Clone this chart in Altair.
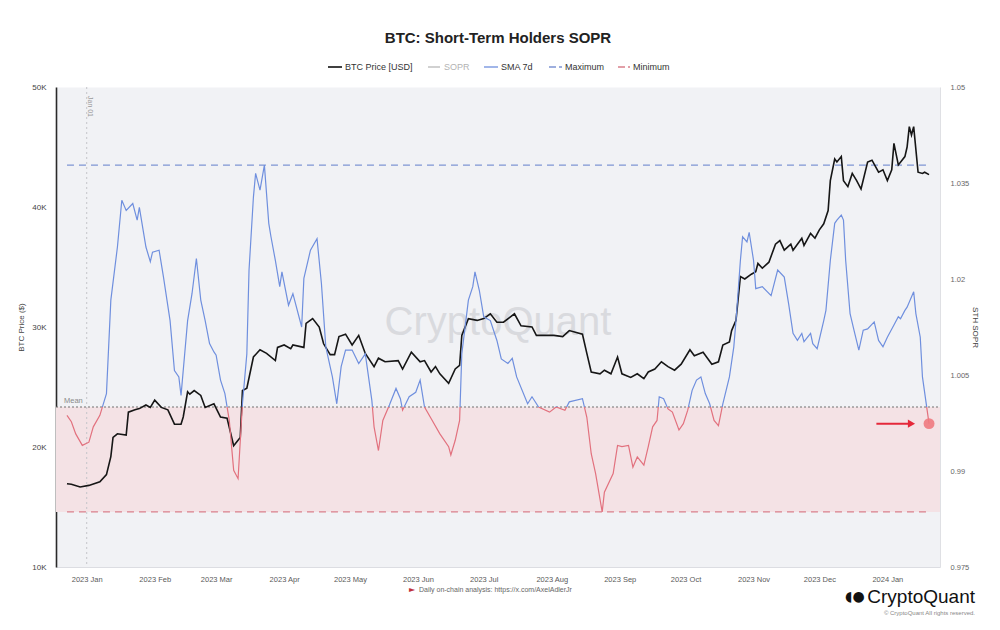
import altair as alt
import pandas as pd

# ---------------- data ----------------
PRICE_DATES = [
    "2022-12-23", "2022-12-25", "2022-12-29", "2023-01-02", "2023-01-07", "2023-01-10",
    "2023-01-12", "2023-01-13", "2023-01-15", "2023-01-19", "2023-01-20", "2023-01-23",
    "2023-01-25", "2023-01-28", "2023-01-30", "2023-02-01", "2023-02-04", "2023-02-07",
    "2023-02-10", "2023-02-13", "2023-02-14", "2023-02-16", "2023-02-17", "2023-02-19",
    "2023-02-22", "2023-02-24", "2023-02-28", "2023-03-03", "2023-03-06", "2023-03-09",
    "2023-03-12", "2023-03-13", "2023-03-15", "2023-03-18", "2023-03-21", "2023-03-24",
    "2023-03-28", "2023-03-29", "2023-04-01", "2023-04-04", "2023-04-05", "2023-04-10",
    "2023-04-11", "2023-04-14", "2023-04-17", "2023-04-19", "2023-04-22", "2023-04-24",
    "2023-04-26", "2023-04-29", "2023-05-02", "2023-05-05", "2023-05-08", "2023-05-12",
    "2023-05-14", "2023-05-17", "2023-05-23", "2023-05-25", "2023-05-29", "2023-06-02",
    "2023-06-04", "2023-06-07", "2023-06-09", "2023-06-11", "2023-06-15", "2023-06-18",
    "2023-06-20", "2023-06-21", "2023-06-24", "2023-06-28", "2023-07-01", "2023-07-04",
    "2023-07-07", "2023-07-10", "2023-07-15", "2023-07-18", "2023-07-23", "2023-07-25",
    "2023-08-02", "2023-08-06", "2023-08-09", "2023-08-15", "2023-08-17", "2023-08-19",
    "2023-08-23", "2023-08-25", "2023-08-28", "2023-08-31", "2023-09-02", "2023-09-06",
    "2023-09-09", "2023-09-12", "2023-09-14", "2023-09-17", "2023-09-20", "2023-09-23",
    "2023-09-26", "2023-09-29", "2023-10-03", "2023-10-05", "2023-10-09", "2023-10-13",
    "2023-10-16", "2023-10-18", "2023-10-21", "2023-10-22", "2023-10-24", "2023-10-26",
    "2023-10-28", "2023-10-31", "2023-11-02", "2023-11-03", "2023-11-05", "2023-11-08",
    "2023-11-11", "2023-11-13", "2023-11-15", "2023-11-18", "2023-11-19", "2023-11-21",
    "2023-11-23", "2023-11-24", "2023-11-27", "2023-11-29", "2023-12-01", "2023-12-03",
    "2023-12-05", "2023-12-06", "2023-12-08", "2023-12-09", "2023-12-11", "2023-12-12",
    "2023-12-14", "2023-12-16", "2023-12-18", "2023-12-20", "2023-12-23", "2023-12-25",
    "2023-12-28", "2023-12-30", "2024-01-01", "2024-01-03", "2024-01-04", "2024-01-06",
    "2024-01-09", "2024-01-10", "2024-01-11", "2024-01-12", "2024-01-13", "2024-01-15",
    "2024-01-17", "2024-01-18", "2024-01-20",
]
PRICE_USD = [
    16940, 16900, 16670, 16800, 17100, 17700,
    19200, 20800, 21100, 21000, 22900, 23100,
    23200, 23500, 23300, 23900, 23300, 23100,
    21900, 21900, 22500, 24600, 24400, 24700,
    24300, 23300, 23600, 22500, 22400, 20100,
    20800, 24700, 24900, 27500, 28100, 27800,
    27200, 28300, 28500, 28200, 28500, 28300,
    30300, 30700, 30000, 28600, 27700, 27700,
    29200, 29400, 28500, 29300, 27800, 26700,
    27400, 27100, 27200, 26500, 27900, 27100,
    27200, 26250, 26700, 26100, 25300, 26500,
    26800, 29300, 30700, 30550, 30700, 31100,
    30400, 30400, 31100, 30100, 30000, 29300,
    29300, 29200, 29700, 29400, 27800, 26250,
    26100, 26400, 26100, 27500, 26100, 25800,
    26100, 25700, 26250, 26500, 27100, 26700,
    26400, 26900, 28100, 27600, 27900, 26900,
    27100, 28500, 28750, 29700, 30550, 34200,
    34000, 34400, 34600, 35300, 34900, 35400,
    36900, 37200, 36400, 36900, 36400, 36900,
    37400, 36800, 37800, 37400, 38100, 38600,
    39700, 42200, 44000, 43750, 44200, 42200,
    41700, 42800, 42200, 41500, 43750, 43900,
    42900, 43100, 42200, 43100, 45300, 43500,
    44200, 45000, 46700, 46000, 46700, 42900,
    42800, 42900, 42700,
]

SMA_DATES = [
    "2022-12-23", "2022-12-25", "2022-12-27", "2022-12-30", "2023-01-02", "2023-01-04",
    "2023-01-07", "2023-01-10", "2023-01-12", "2023-01-15", "2023-01-17", "2023-01-19",
    "2023-01-22", "2023-01-24", "2023-01-25", "2023-01-28", "2023-01-30", "2023-01-31",
    "2023-02-03", "2023-02-05", "2023-02-08", "2023-02-10", "2023-02-12", "2023-02-13",
    "2023-02-16", "2023-02-18", "2023-02-20", "2023-02-22", "2023-02-24", "2023-02-26",
    "2023-02-28", "2023-03-01", "2023-03-03", "2023-03-05", "2023-03-07", "2023-03-09",
    "2023-03-11", "2023-03-13", "2023-03-15", "2023-03-16", "2023-03-18", "2023-03-19",
    "2023-03-21", "2023-03-23", "2023-03-25", "2023-03-26", "2023-03-28", "2023-03-30",
    "2023-03-31", "2023-04-03", "2023-04-05", "2023-04-09", "2023-04-10", "2023-04-13",
    "2023-04-16", "2023-04-18", "2023-04-20", "2023-04-23", "2023-04-25", "2023-04-27",
    "2023-04-29", "2023-05-02", "2023-05-05", "2023-05-08", "2023-05-11", "2023-05-12",
    "2023-05-14", "2023-05-16", "2023-05-19", "2023-05-22", "2023-05-24", "2023-05-25",
    "2023-05-28", "2023-05-31", "2023-06-02", "2023-06-04", "2023-06-07", "2023-06-11",
    "2023-06-15", "2023-06-16", "2023-06-18", "2023-06-20", "2023-06-21", "2023-06-24",
    "2023-06-26", "2023-06-27", "2023-06-29", "2023-07-01", "2023-07-04", "2023-07-07",
    "2023-07-09", "2023-07-12", "2023-07-14", "2023-07-16", "2023-07-21", "2023-07-23",
    "2023-07-26", "2023-07-31", "2023-08-03", "2023-08-07", "2023-08-09", "2023-08-15",
    "2023-08-17", "2023-08-19", "2023-08-21", "2023-08-24", "2023-08-25", "2023-08-29",
    "2023-08-31", "2023-09-02", "2023-09-05", "2023-09-07", "2023-09-09", "2023-09-12",
    "2023-09-14", "2023-09-16", "2023-09-18", "2023-09-19", "2023-09-21", "2023-09-23",
    "2023-09-25", "2023-09-28", "2023-09-30", "2023-10-02", "2023-10-04", "2023-10-06",
    "2023-10-08", "2023-10-10", "2023-10-12", "2023-10-14", "2023-10-16", "2023-10-18",
    "2023-10-21", "2023-10-23", "2023-10-24", "2023-10-26", "2023-10-27", "2023-10-29",
    "2023-10-30", "2023-11-01", "2023-11-02", "2023-11-05", "2023-11-09", "2023-11-12",
    "2023-11-15", "2023-11-17", "2023-11-19", "2023-11-21", "2023-11-23", "2023-11-24",
    "2023-11-27", "2023-11-28", "2023-11-30", "2023-12-03", "2023-12-04", "2023-12-06",
    "2023-12-08", "2023-12-09", "2023-12-11", "2023-12-12", "2023-12-13", "2023-12-15",
    "2023-12-17", "2023-12-19", "2023-12-21", "2023-12-23", "2023-12-26", "2023-12-28",
    "2023-12-30", "2024-01-01", "2024-01-04", "2024-01-06", "2024-01-07", "2024-01-09",
    "2024-01-10", "2024-01-13", "2024-01-14", "2024-01-16", "2024-01-17", "2024-01-20",
]
SMA_VALUES = [
    0.9987, 0.9977, 0.9958, 0.9940, 0.9945, 0.9969,
    0.9987, 1.0021, 1.0167, 1.0250, 1.0323, 1.0307,
    1.0318, 1.0292, 1.0312, 1.0250, 1.0227, 1.0242,
    1.0245, 1.0203, 1.0135, 1.0057, 1.0047, 1.0018,
    1.0135, 1.0177, 1.0232, 1.0167, 1.0135, 1.0099,
    1.0086, 1.0081, 1.0042, 1.0021, 0.9979, 0.9901,
    0.9888, 1.0005, 1.0083, 1.0214, 1.0328, 1.0365,
    1.0339, 1.0378, 1.0287, 1.0266, 1.0229, 1.0188,
    1.0211, 1.0159, 1.0177, 1.0125, 1.0201, 1.0245,
    1.0263, 1.0193, 1.0094, 1.0047, 1.0005, 1.0063,
    1.0089, 1.0089, 1.0068, 1.0083, 1.0010, 0.9969,
    0.9932, 0.9979, 1.0003, 1.0029, 1.0013, 0.9995,
    1.0016, 1.0023, 1.0042, 1.0000, 0.9982, 0.9958,
    0.9938, 0.9925, 0.9948, 0.9979, 1.0083, 1.0167,
    1.0188, 1.0211, 1.0182, 1.0141, 1.0135, 1.0104,
    1.0075, 1.0068, 1.0076, 1.0047, 1.0005, 1.0016,
    1.0000, 0.9992, 1.0000, 0.9995, 1.0008, 1.0013,
    0.9984, 0.9927, 0.9896, 0.9836, 0.9867, 0.9896,
    0.9940, 0.9938, 0.9940, 0.9906, 0.9922, 0.9909,
    0.9938, 0.9969, 0.9979, 1.0016, 1.0013, 0.9997,
    0.9992, 0.9964, 0.9974, 0.9995, 1.0026, 1.0042,
    1.0047, 1.0021, 1.0005, 0.9979, 0.9971, 1.0005,
    1.0047, 1.0094, 1.0135, 1.0229, 1.0266, 1.0258,
    1.0273, 1.0229, 1.0185, 1.0188, 1.0174, 1.0214,
    1.0203, 1.0161, 1.0115, 1.0104, 1.0115, 1.0102,
    1.0115, 1.0099, 1.0091, 1.0135, 1.0151, 1.0229,
    1.0287, 1.0292, 1.0300, 1.0292, 1.0229, 1.0146,
    1.0117, 1.0089, 1.0120, 1.0122, 1.0133, 1.0104,
    1.0094, 1.0109, 1.0128, 1.0141, 1.0138, 1.0151,
    1.0156, 1.0180, 1.0146, 1.0109, 1.0047, 0.9974,
]

MEAN_SOPR = 1.0
X_DOMAIN = ["2022-12-18", "2024-01-25"]
X_TICKS = ["2023-01-01", "2023-02-01", "2023-03-01", "2023-04-01", "2023-05-01",
           "2023-06-01", "2023-07-01", "2023-08-01", "2023-09-01", "2023-10-01",
           "2023-11-01", "2023-12-01", "2024-01-01"]
PRICE_TICKS = [10000, 20000, 30000, 40000, 50000]
SOPR_TICKS = [0.975, 0.99, 1.005, 1.02, 1.035, 1.05]
JAN_MARK = "2023-01-01"
ARROW_FROM, ARROW_TO = "2023-12-27", "2024-01-12"

# ---------------- styling ----------------
W, H = 884, 480
FONT = "Liberation Sans"
BLUE = "#6f8fde"
RED = "#e2717e"
MAX_C = "#7f95d4"
MIN_C = "#d9808c"


def ms(s):
    return int(pd.Timestamp(s, tz="UTC").value // 10**6)


price_df = pd.DataFrame({"date": PRICE_DATES, "price": PRICE_USD})
sma_df = pd.DataFrame({"date": SMA_DATES, "sopr": SMA_VALUES})
smax, smin = max(SMA_VALUES), min(SMA_VALUES)
band_df = pd.DataFrame({"top": [MEAN_SOPR], "bottom": [smin]})
mean_df = pd.DataFrame({"v": [MEAN_SOPR]})
ext_df = pd.DataFrame({"start": [SMA_DATES[0]] * 2, "end": [SMA_DATES[-1]] * 2,
                       "v": [smax, smin], "kind": ["Maximum", "Minimum"]})
jan_df = pd.DataFrame({"date": [JAN_MARK]})
arrow_df = pd.DataFrame({"start": [ARROW_FROM], "end": [ARROW_TO], "v": [SMA_VALUES[-1]]})
one = pd.DataFrame({"k": [0]})

x_scale = alt.Scale(type="utc", domain=[ms(X_DOMAIN[0]), ms(X_DOMAIN[1])])
price_scale = alt.Scale(domain=[PRICE_TICKS[0], PRICE_TICKS[-1]], nice=False, zero=False)
sopr_scale = alt.Scale(domain=[SOPR_TICKS[0], SOPR_TICKS[-1]], nice=False, zero=False)

X_AXIS = alt.Axis(
    values=[ms(t) for t in X_TICKS], format="%Y %b", title=None, labelFont=FONT,
    labelFontSize=7.5, labelColor="#5a5a5a", ticks=False, grid=False, labelPadding=8,
    domainColor="#dcdde2", domainWidth=1, labelFlush=False)
SOPR_AXIS = alt.Axis(
    orient="right", values=SOPR_TICKS, format=".3~f", title="STH SOPR", titleFont=FONT,
    titleFontSize=8, titleFontWeight="normal", titleColor="#444", titlePadding=2,
    labelFont=FONT, labelFontSize=7.5, labelColor="#666", ticks=False, grid=False,
    labelPadding=10, domainColor="#dfe0e4", domainWidth=1)
PRICE_AXIS = alt.Axis(
    orient="left", values=PRICE_TICKS, labelExpr="datum.value / 1000 + 'K'",
    title="BTC Price ($)", titleFont=FONT, titleFontSize=8, titleFontWeight="normal",
    titleColor="#444", titlePadding=6, labelFont=FONT, labelFontSize=8, labelColor="#444",
    ticks=False, grid=False, labelPadding=10, domainColor="#2a2a2a", domainWidth=1.6)

off = (smax - MEAN_SOPR) / (smax - smin)
gradient = {
    "gradient": "linear", "x1": 0, "y1": 0, "x2": 0, "y2": 1,
    "stops": [
        {"offset": 0, "color": BLUE}, {"offset": off, "color": BLUE},
        {"offset": off, "color": RED}, {"offset": 1, "color": RED},
    ],
}


def xt(field):
    return alt.X(field, scale=x_scale, axis=X_AXIS)


def ybg(field):
    return alt.Y(field, scale=sopr_scale, axis=None)


def yfg(field):
    return alt.Y(field, scale=sopr_scale, axis=SOPR_AXIS)


def label(text, x, y, size=9, color="#333", align="left", weight="normal",
          angle=0, font=FONT, baseline="middle"):
    return alt.Chart(one).mark_text(
        text=text, fontSize=size, color=color, align=align, fontWeight=weight,
        angle=angle, font=font, baseline=baseline,
    ).encode(x=alt.value(x), y=alt.value(y))


def seg(x1, x2, y, color, dash=None, width=1.5):
    kw = dict(color=color, strokeWidth=width)
    if dash:
        kw["strokeDash"] = dash
    return alt.Chart(one).mark_rule(**kw).encode(
        x=alt.value(x1), x2=alt.value(x2), y=alt.value(y))


# ---------------- background layers (SOPR scale, no axis) ----------------
band = alt.Chart(band_df).mark_rect(color="#f4e2e5").encode(
    x=alt.value(0), x2=alt.value(W), y=ybg("top:Q"), y2="bottom:Q")
watermark = label("CryptoQuant", W / 2, 236, size=40, color="#d9dade", align="center")
jan_rule = alt.Chart(jan_df).mark_rule(color="#c4c5ca", strokeDash=[2, 3], strokeWidth=1).encode(
    x=xt("date:T"), y=alt.value(0), y2=alt.value(H))
mean_rule = alt.Chart(mean_df).mark_rule(color="#707070", strokeDash=[2, 2], strokeWidth=1.1).encode(
    x=alt.value(0), x2=alt.value(W), y=ybg("v:Q"))
ext_rules = alt.Chart(ext_df).mark_rule(strokeDash=[7, 5], strokeWidth=1.3).encode(
    x=xt("start:T"), x2="end:T", y=ybg("v:Q"),
    color=alt.Color("kind:N", scale=alt.Scale(domain=["Maximum", "Minimum"], range=[MAX_C, MIN_C]),
                    legend=None))
bg = alt.layer(band, watermark, jan_rule, mean_rule, ext_rules)

# ---------------- price line (left axis) ----------------
price_line = alt.Chart(price_df).mark_line(color="#161616", strokeWidth=1.6).encode(
    x=xt("date:T"),
    y=alt.Y("price:Q", scale=price_scale, axis=PRICE_AXIS),
)

# ---------------- SMA line (right axis) ----------------
sma_line = alt.Chart(sma_df).mark_line(stroke=gradient, strokeWidth=1.2).encode(
    x=xt("date:T"), y=yfg("sopr:Q"))
last_pt = alt.Chart(sma_df.tail(1)).mark_circle(size=120, color="#f07a7f", opacity=0.9).encode(
    x=xt("date:T"), y=yfg("sopr:Q"))
arrow_line = alt.Chart(arrow_df).mark_rule(color="#e5283a", strokeWidth=2).encode(
    x=xt("start:T"), x2="end:T", y=yfg("v:Q"))
arrow_head = alt.Chart(arrow_df).mark_point(shape="triangle-right", filled=True, size=70,
                                            color="#e5283a", opacity=1).encode(
    x=xt("end:T"), y=yfg("v:Q"))
fg = alt.layer(sma_line, arrow_line, arrow_head, last_pt)

# ---------------- texts ----------------
texts = alt.layer(
    label("BTC: Short-Term Holders SOPR", W / 2, -49, size=15, color="#222", align="center",
          weight="bold"),
    seg(272, 286, -20, "#111", width=1.6),
    label("BTC Price [USD]", 289, -20),
    seg(372, 384, -20, "#b8b8b8", width=1.3),
    label("SOPR", 388, -20, color="#b3b3b3"),
    seg(428, 442, -20, BLUE, width=1.3),
    label("SMA 7d", 445, -20),
    seg(493, 506, -20, MAX_C, dash=[7, 3], width=1.3),
    label("Maximum", 509, -20),
    seg(562, 574, -20, MIN_C, dash=[7, 3], width=1.3),
    label("Minimum", 577, -20),
    label("Jan 01", 34, 9, size=7, color="#9a9a9a", angle=90),
    label("Mean", 8, 314, size=7.5, color="#8a8a8a"),
    label("\u25ba", 356, 503, size=8, color="#c0303a", font="DejaVu Sans", align="center"),
    label("Daily on-chain analysis: https://x.com/AxelAdlerJr", 363, 503, size=7, color="#666"),
    label("\u25d6\u25cf", 789, 510, size=14, color="#111", font="DejaVu Sans"),
    label("CryptoQuant", 919, 510, size=19, color="#111", align="right"),
    label("\u00a9 CryptoQuant All rights reserved.", 919, 526, size=6, color="#888", align="right"),
)

chart = alt.layer(bg, price_line, fg, texts).resolve_scale(y="independent").properties(
    width=W, height=H,
    autosize=alt.AutoSizeParams(type="none"),
    padding={"left": 48, "top": 79, "right": 44, "bottom": 55},
).configure(background="white").configure_view(fill="#f1f2f5", stroke="transparent")

chart.save("out.html", embed_options={"renderer": "svg", "actions": False})
